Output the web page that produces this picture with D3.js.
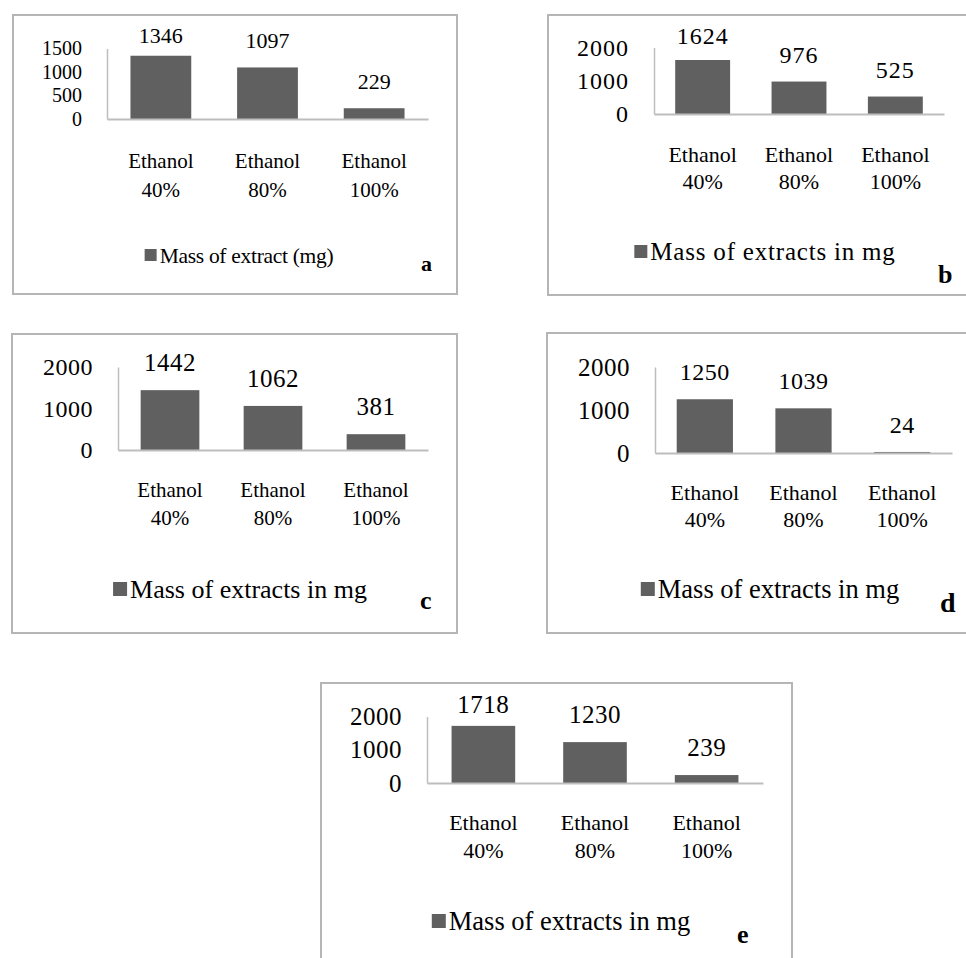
<!DOCTYPE html>
<html>
<head>
<meta charset="utf-8">
<script src="https://cdn.jsdelivr.net/npm/d3@7/dist/d3.min.js"></script>
<style>
  body { margin: 0; background: #fff; }
  svg { display: block; }
  text { font-family: "Liberation Serif", "Times New Roman", serif; fill: #000; }
</style>
</head>
<body>
<svg id="chart" width="966" height="958"></svg>
<script>
// ---- data ----
const categories = ["Ethanol 40%", "Ethanol 80%", "Ethanol 100%"];
const valuesA = [1346, 1097, 229];
const valuesB = [1624, 976, 525];
const valuesC = [1442, 1062, 381];
const valuesD = [1250, 1039, 24];
const valuesE = [1718, 1230, 239];
const ticksA = [0, 500, 1000, 1500];
const ticksBE = [0, 1000, 2000];
const legendA = "Mass of extract (mg)";
const legendBE = "Mass of extracts in mg";
const panelLetters = ["a", "b", "c", "d", "e"];

// ---- panel placement & type sizes ----
const panels = [
  { values: valuesA, ticks: ticksA, legend: legendA, letter: panelLetters[0],
    frame: [13, 15, 457, 294], x0: 107, x1: 428, yBase: 119, yTop: 48.5,
    fs: { tick: 20, num: 22, cat: 21, leg: 21.5, letter: 22 }, numLs: 0, legLs: -0.3,
    catDy: [49, 78], legCx: 239, legY: 263, sq: 12, letterXY: [421, 271] },
  { values: valuesB, ticks: ticksBE, legend: legendBE, letter: panelLetters[1],
    frame: [548, 15, 984, 295], x0: 654, x1: 944, yBase: 114, yTop: 47.5,
    fs: { tick: 24, num: 24, cat: 22, leg: 25, letter: 26 }, numLs: 1, legLs: 0.8,
    catDy: [48, 75], legCx: 765, legY: 260, sq: 13, letterXY: [938, 283] },
  { values: valuesC, ticks: ticksBE, legend: legendBE, letter: panelLetters[2],
    frame: [12, 334, 457, 633], x0: 118, x1: 428, yBase: 450, yTop: 367,
    fs: { tick: 24, num: 25, cat: 21, leg: 26, letter: 26 }, numLs: 0.5, legLs: 0,
    catDy: [47, 75], legCx: 240, legY: 598, sq: 14, letterXY: [420, 609] },
  { values: valuesD, ticks: ticksBE, legend: legendBE, letter: panelLetters[3],
    frame: [547, 333, 992, 633], x0: 655, x1: 952, yBase: 453, yTop: 367,
    fs: { tick: 25, num: 24, cat: 22, leg: 26.5, letter: 28 }, numLs: 0.5, legLs: 0,
    catDy: [47, 74], legCx: 770, legY: 598, sq: 14, letterXY: [940, 612] },
  { values: valuesE, ticks: ticksBE, legend: legendBE, letter: panelLetters[4],
    frame: [321, 683, 792, 975], x0: 427, x1: 763, yBase: 783, yTop: 716.5,
    fs: { tick: 25, num: 25, cat: 22, leg: 26.5, letter: 26 }, numLs: 0.5, legLs: 0,
    catDy: [47, 75], legCx: 561, legY: 930, sq: 14, letterXY: [737, 943] }
];

const BAR = "#606060", AXIS = "#bdbdbd", FRAME = "#b5b5b5";
const svg = d3.select("#chart");

panels.forEach(p => {
  const g = svg.append("g");
  const [fx0, fy0, fx1, fy1] = p.frame;

  // chart frame
  g.append("rect")
    .attr("x", fx0).attr("y", fy0)
    .attr("width", fx1 - fx0).attr("height", fy1 - fy0)
    .attr("fill", "#fff").attr("stroke", FRAME).attr("stroke-width", 2);

  const x = d3.scaleBand().domain(categories).range([p.x0, p.x1])
    .paddingInner(0.43).paddingOuter(0.22);
  const y = d3.scaleLinear().domain([0, d3.max(p.ticks)]).range([p.yBase, p.yTop]);

  // value axis: line plus labels, no tick marks
  const ya = g.append("g").attr("transform", `translate(${p.x0},0)`)
    .call(d3.axisLeft(y).tickValues(p.ticks).tickFormat(d3.format("d"))
      .tickSize(0).tickPadding(25));
  ya.select(".domain").attr("stroke", AXIS).attr("stroke-width", 1.5);
  ya.selectAll("text").attr("font-size", p.fs.tick)
    .attr("letter-spacing", p.numLs).attr("fill", "#000");

  // bars
  g.selectAll("rect.bar").data(p.values).join("rect").attr("class", "bar")
    .attr("x", (d, i) => x(categories[i]))
    .attr("width", x.bandwidth())
    .attr("y", d => y(d))
    .attr("height", d => p.yBase - y(d))
    .attr("fill", BAR);

  // category axis along the baseline
  const xa = g.append("g").attr("transform", `translate(0,${p.yBase})`)
    .call(d3.axisBottom(x).tickSize(0).tickSizeOuter(0).tickFormat(""));
  xa.select(".domain").attr("stroke", AXIS).attr("stroke-width", 2);
  xa.selectAll(".tick text").remove();
  xa.selectAll(".tick").each(function (c) {
    const parts = c.split(" ");
    const t = d3.select(this).append("text")
      .attr("text-anchor", "middle").attr("font-size", p.fs.cat).attr("fill", "#000");
    t.append("tspan").attr("x", 0).attr("y", p.catDy[0]).text(parts[0]);
    t.append("tspan").attr("x", 0).attr("y", p.catDy[1]).text(parts[1]);
  });

  // value labels above bars, kept inside the frame
  const cap = p.fs.num * 0.68;
  g.selectAll("text.val").data(p.values).join("text").attr("class", "val")
    .attr("x", (d, i) => x(categories[i]) + x.bandwidth() / 2)
    .attr("y", d => Math.max(y(d) - 19, fy0 + 13 + cap))
    .attr("text-anchor", "middle")
    .attr("font-size", p.fs.num)
    .attr("letter-spacing", p.numLs)
    .text(d => d);

  // legend
  const lg = g.append("g");
  const lt = lg.append("text").attr("y", p.legY)
    .attr("font-size", p.fs.leg).attr("letter-spacing", p.legLs)
    .text(p.legend);
  const tw = lt.node().getComputedTextLength();
  const total = p.sq + 3 + tw;
  const sx = p.legCx - total / 2;
  lg.insert("rect", "text")
    .attr("x", sx).attr("y", p.legY - 2 - p.sq)
    .attr("width", p.sq).attr("height", p.sq).attr("fill", BAR);
  lt.attr("x", sx + p.sq + 3);

  // panel letter
  g.append("text")
    .attr("x", p.letterXY[0]).attr("y", p.letterXY[1])
    .attr("font-size", p.fs.letter).attr("font-weight", "bold")
    .text(p.letter);
});
</script>
</body>
</html>
